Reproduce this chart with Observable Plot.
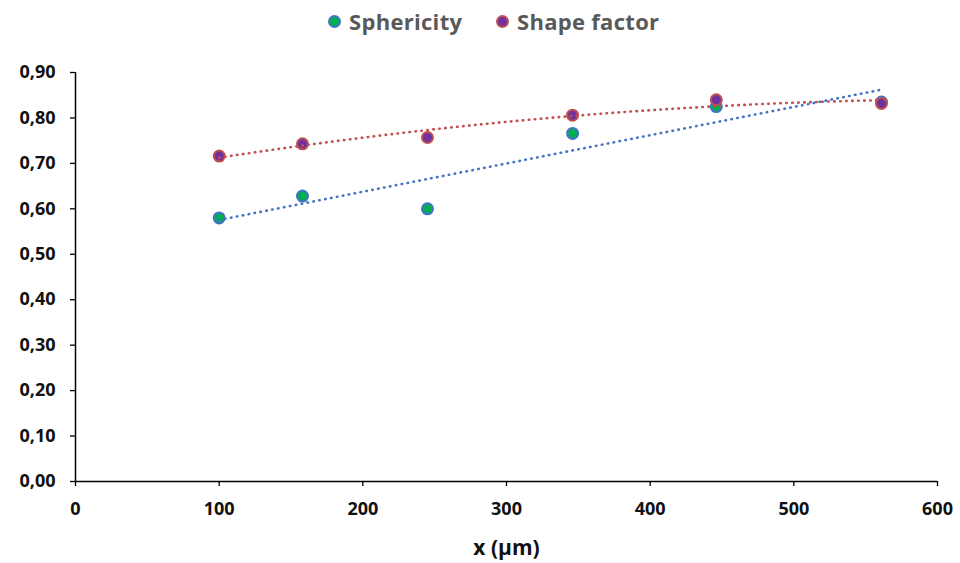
<!DOCTYPE html>
<html>
<head>
<meta charset="utf-8">
<script src="https://cdn.jsdelivr.net/npm/d3@7"></script>
<script src="https://cdn.jsdelivr.net/npm/@observablehq/plot@0.6"></script>
<style>
  html, body { margin: 0; padding: 0; background: #fff; }
  body { width: 960px; height: 563px; overflow: hidden; font-family: "Open Sans", Lato, sans-serif; }
  #legend { height: 45px; position: relative; font-weight: bold; font-size: 22px; letter-spacing: 0.3px; color: #595959; }
  .item { position: absolute; top: 6px; display: flex; align-items: center; }
  .sw { width: 9px; height: 9px; border-radius: 50%; border: 2px solid; margin-right: 8px; }
</style>
</head>
<body>
<div id="legend"></div>
<div id="chart"></div>
<script>
const xValues = [100, 158, 245, 346, 446, 561];
const sphericity = [0.580, 0.628, 0.600, 0.766, 0.825, 0.835];
const shapeFactor = [0.716, 0.743, 0.757, 0.806, 0.840, 0.832];
const seriesNames = ["Sphericity", "Shape factor"];
const xTicks = [0, 100, 200, 300, 400, 500, 600];
const yTicks = [0, 0.1, 0.2, 0.3, 0.4, 0.5, 0.6, 0.7, 0.8, 0.9];

const colors = {
  "Sphericity": {fill: "#00B050", stroke: "#4472C4"},
  "Shape factor": {fill: "#7030A0", stroke: "#C0504D"}
};

const sphData = xValues.map((x, i) => ({x, y: sphericity[i]}));
const shpData = xValues.map((x, i) => ({x, y: shapeFactor[i]}));

// Quadratic least-squares trend for shape factor
function quadFit(xs, ys) {
  const n = xs.length;
  let s = [0,0,0,0,0], t = [0,0,0];
  for (let i = 0; i < n; i++) {
    const x = xs[i], y = ys[i];
    for (let k = 0; k < 5; k++) s[k] += Math.pow(x, k);
    for (let k = 0; k < 3; k++) t[k] += y * Math.pow(x, k);
  }
  const M = [[s[0], s[1], s[2]], [s[1], s[2], s[3]], [s[2], s[3], s[4]]];
  const det = m => m[0][0]*(m[1][1]*m[2][2]-m[1][2]*m[2][1]) - m[0][1]*(m[1][0]*m[2][2]-m[1][2]*m[2][0]) + m[0][2]*(m[1][0]*m[2][1]-m[1][1]*m[2][0]);
  const D = det(M);
  const coef = [0,1,2].map(c => det(M.map((row, r) => row.map((v, j) => j === c ? t[r] : v))) / D);
  return x => coef[0] + coef[1]*x + coef[2]*x*x;
}
const qf = quadFit(xValues, shapeFactor);
const xMin = d3.min(xValues), xMax = d3.max(xValues);
const shpTrend = d3.range(0, 101).map(i => { const x = xMin + (xMax - xMin) * i / 100; return {x, y: qf(x)}; });

// legend
const legend = document.getElementById("legend");
const positions = [328, 496];
seriesNames.forEach((name, i) => {
  const it = document.createElement("div");
  it.className = "item";
  it.style.left = positions[i] + "px";
  it.innerHTML = `<span class="sw" style="background:${colors[name].fill};border-color:${colors[name].stroke}"></span><span>${name}</span>`;
  legend.appendChild(it);
});

const fmt = d => d3.format(".2f")(d).replace(".", ",");
const dots = {strokeDasharray: "0.5 5.5", strokeLinecap: "round", strokeWidth: 2.6};
const font = "'Open Sans', Lato, sans-serif";

const chart = Plot.plot({
  width: 960,
  height: 518,
  marginTop: 27,
  marginLeft: 75,
  marginRight: 23,
  marginBottom: 82,
  style: {fontFamily: font, background: "#fff"},
  x: {domain: [0, 600]},
  y: {domain: [0, 0.9]},
  marks: [
    Plot.axisX({ticks: xTicks, tickSize: 5, tickPadding: 16, fontSize: 18, fontWeight: "bold", stroke: "#000", strokeWidth: 1.3, fill: "#111", label: null}),
    Plot.axisY({ticks: yTicks, tickSize: 5, tickPadding: 15, tickFormat: fmt, fontSize: 18, fontWeight: "bold", stroke: "#000", strokeWidth: 1.3, fill: "#111", label: null}),
    Plot.ruleY([0], {stroke: "#000", strokeWidth: 1.5}),
    Plot.ruleX([0], {stroke: "#000", strokeWidth: 1.5}),
    Plot.dot(sphData, {x: "x", y: "y", r: 5.5, fill: colors["Sphericity"].fill, stroke: colors["Sphericity"].stroke, strokeWidth: 2}),
    Plot.dot(shpData, {x: "x", y: "y", r: 5.5, fill: colors["Shape factor"].fill, stroke: colors["Shape factor"].stroke, strokeWidth: 2}),
    Plot.linearRegressionY(sphData, {x: "x", y: "y", ci: 0, stroke: colors["Sphericity"].stroke, ...dots}),
    Plot.line(shpTrend, {x: "x", y: "y", stroke: colors["Shape factor"].stroke, ...dots}),
    Plot.text(["x (µm)"], {frameAnchor: "bottom", lineAnchor: "middle", dy: 67, fontSize: 21, fontWeight: "bold", fill: "#111"})
  ]
});
document.getElementById("chart").appendChild(chart);
</script>
</body>
</html>
